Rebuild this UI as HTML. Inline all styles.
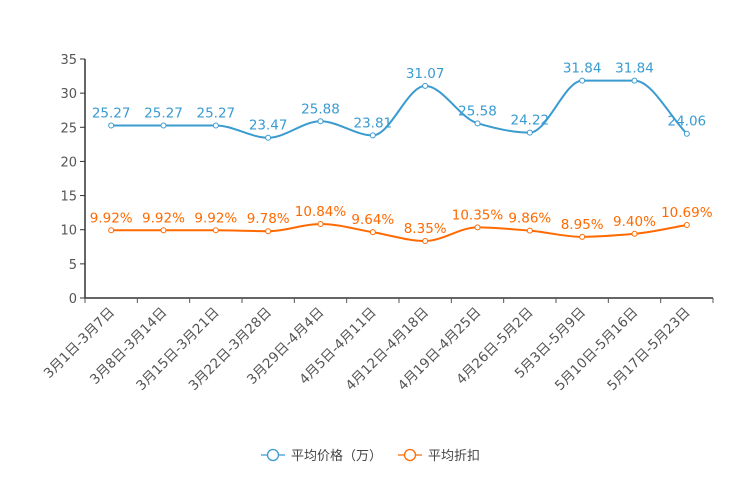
<!DOCTYPE html>
<html><head><meta charset="utf-8"><style>
body{margin:0;background:#fff}
svg{font-family:"DejaVu Sans","Liberation Sans","Noto Sans CJK SC",sans-serif}
</style></head><body>
<svg id="c" width="744" height="496"></svg>
<script>
const categories=["3月1日-3月7日","3月8日-3月14日","3月15日-3月21日","3月22日-3月28日","3月29日-4月4日","4月5日-4月11日","4月12日-4月18日","4月19日-4月25日","4月26日-5月2日","5月3日-5月9日","5月10日-5月16日","5月17日-5月23日"];
const priceValues=[25.27,25.27,25.27,23.47,25.88,23.81,31.07,25.58,24.22,31.84,31.84,24.06];
const discountValues=[9.92,9.92,9.92,9.78,10.84,9.64,8.35,10.35,9.86,8.95,9.40,10.69];
const discountLabels=["9.92%","9.92%","9.92%","9.78%","10.84%","9.64%","8.35%","10.35%","9.86%","8.95%","9.40%","10.69%"];
const yTicks=[0,5,10,15,20,25,30,35];
const NS="http://www.w3.org/2000/svg",svg=document.getElementById('c');
const L=85,R=713,T=59,B=298,band=(R-L)/categories.length;
const x=i=>L+band*(i+0.5), y=v=>B-(v/35)*(B-T);
function mk(t,a,p){const e=document.createElementNS(NS,t);for(const k in a)e.setAttribute(k,a[k]);(p||svg).appendChild(e);return e;}
yTicks.forEach(t=>{
 const l=mk('line',{x1:L-5,x2:L,y1:y(t),y2:y(t),stroke:'#333'});
 
 
 const tx=mk('text',{x:L-8,y:y(t)+5,'text-anchor':'end','font-size':13,fill:'#555'});tx.textContent=t;
 
 
});
const ya=mk('line',{x1:L,x2:L,y1:T,y2:B,stroke:'#333','stroke-width':1.5});


const xa=mk('line',{x1:L,x2:R,y1:B,y2:B,stroke:'#333','stroke-width':1.5});


for(let i=0;i<=categories.length;i++){const l=mk('line',{x1:L+band*i,x2:L+band*i,y1:B,y2:B+5,stroke:'#555'});
 
 }
categories.forEach((c,i)=>{
 const t=mk('text',{'text-anchor':'end','font-size':13.5,fill:'#555',transform:`translate(${x(i)+4},${B+15}) rotate(-45)`});
 t.textContent=c;
 
 
});
function path(vals){
 const p=vals.map((v,i)=>[x(i),y(v)]),n=p.length,s=[],m=[];
 for(let i=0;i<n-1;i++)s.push((p[i+1][1]-p[i][1])/(p[i+1][0]-p[i][0]));
 for(let i=0;i<n;i++){
  if(i===0)m.push(s[0]);else if(i===n-1)m.push(s[n-2]);
  else m.push(s[i-1]*s[i]<=0?0:2/(1/s[i-1]+1/s[i]));
 }
 let d=`M${p[0][0]},${p[0][1]}`;
 for(let i=0;i<n-1;i++){const h=(p[i+1][0]-p[i][0])/3;
  d+=` C${p[i][0]+h},${p[i][1]+m[i]*h} ${p[i+1][0]-h},${p[i+1][1]-m[i+1]*h} ${p[i+1][0]},${p[i+1][1]}`;}
 return d;}
function series(vals,labels,color,name){
 const g=mk('g',{});
 
 
 mk('path',{d:path(vals),fill:'none',stroke:color,'stroke-width':2},g);
 vals.forEach((v,i)=>{
  const c=mk('circle',{cx:x(i),cy:y(v),r:2.5,fill:'#fff',stroke:color,'stroke-width':1},g);
  
  
  const t=mk('text',{x:x(i),y:y(v)-8,'text-anchor':'middle','font-size':13.5,fill:color},g);t.textContent=labels[i];
  
  
 });}
series(priceValues,priceValues.map(v=>v.toFixed(2)),'#3a9bd1','price');
series(discountValues,discountLabels,'#ff6a00','discount');
function legend(lx,color,label,name){
 const g=mk('g',{});
 
 
 mk('line',{x1:lx,x2:lx+24,y1:455,y2:455,stroke:color,'stroke-width':1.3},g);
 mk('circle',{cx:lx+12,cy:455,r:5.5,fill:'#fff',stroke:color,'stroke-width':1.3},g);
 const t=mk('text',{x:lx+30,y:460,'font-size':13,fill:'#444','font-family':'"Noto Sans CJK SC",sans-serif'},g);t.textContent=label;}
legend(261,'#3a9bd1','平均价格（万）','price');
legend(398,'#ff6a00','平均折扣','discount');
</script>
</body></html>
